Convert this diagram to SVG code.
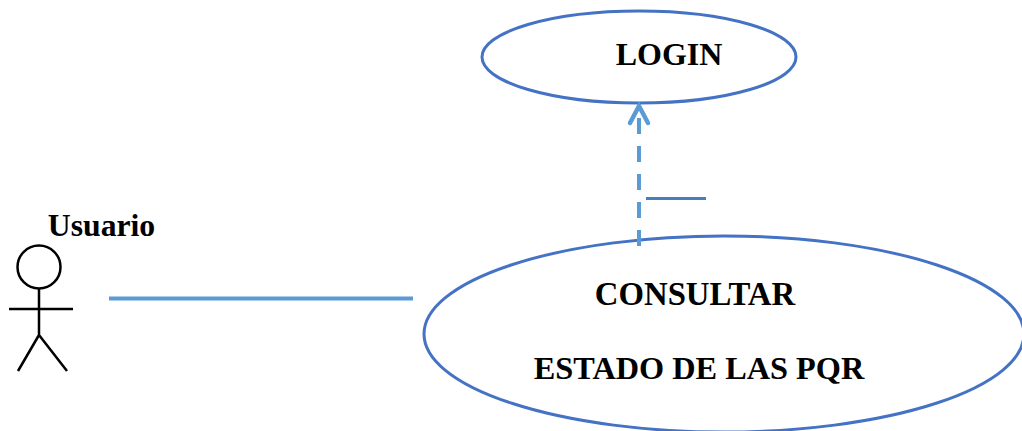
<svg xmlns="http://www.w3.org/2000/svg" width="1022" height="431" viewBox="0 0 1022 431">
<style>
.n{fill:#fff;stroke:#4472c4;stroke-width:3}
.t{font-family:"Liberation Serif",serif;font-weight:bold;fill:#000;font-size:32px}
.a{fill:none;stroke:#000;stroke-width:2.500}
.c{fill:none;stroke:#5b9bd5;stroke-width:4}
</style>
<rect width="1022" height="431" fill="#fff"/>
<g id="login"><ellipse class="n" cx="639" cy="57" rx="157" ry="46"/>
<text class="t" x="669" y="65" text-anchor="middle">LOGIN</text></g>
<g id="consultar"><ellipse class="n" cx="724" cy="334" rx="300" ry="98"/>
<text class="t" x="695" y="305" text-anchor="middle" style="font-size:32.800px">CONSULTAR</text>
<text class="t" x="699" y="379" text-anchor="middle" style="font-size:32.300px">ESTADO DE LAS PQR</text></g>
<g id="usuario"><text class="t" x="101.500" y="236" text-anchor="middle" style="font-size:31.700px">Usuario</text>
<circle class="a" cx="39" cy="267" r="21.500"/>
<path class="a" d="M39 288.500V335M9 309H73M39 335L18 371M39 335L67 371"/></g>
<g id="connectors">
<path class="c" d="M109 298.500H413"/>
<path class="c" d="M639 246V118" stroke-dasharray="16 12"/>
<path class="c" d="M630 123L639 106L648 123" stroke-linecap="round" style="stroke-width:4.500"/>
<path d="M646 198.500H706" fill="none" stroke="#4a7ebb" stroke-width="3"/>
</g>
</svg>
